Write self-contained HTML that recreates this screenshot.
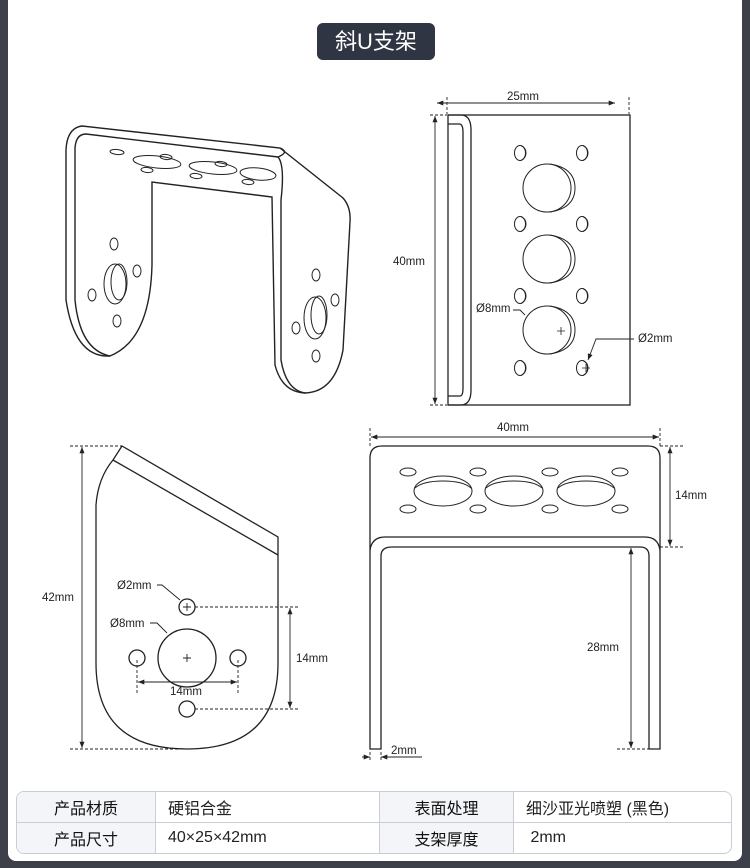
<!DOCTYPE html>
<html><head><meta charset="utf-8"><style>
html,body{margin:0;padding:0;background:#3d4049;}
body{width:750px;height:868px;position:relative;overflow:hidden;font-family:"Liberation Sans","Noto Sans CJK SC",sans-serif;}
.card{position:absolute;left:8px;top:0;width:734px;height:861px;background:#fff;border-radius:0 0 8px 8px;}
.title{position:absolute;left:317px;top:23px;width:118px;height:37px;background:#2f3542;border-radius:6px;color:#fff;font-size:22px;line-height:37px;text-align:center;font-family:"Liberation Sans","Noto Sans CJK SC",sans-serif;}
svg{position:absolute;left:0;top:0;}
table{position:absolute;left:16px;top:791px;width:716px;height:61px;border-collapse:separate;border-spacing:0;border:1px solid #c9cdd5;border-radius:8px;overflow:hidden;font-size:16px;color:#222;}
td{border-right:1px solid #c9cdd5;border-bottom:1px solid #c9cdd5;padding:0 0 0 12px;height:30px;}
tr:last-child td{border-bottom:none}
td:last-child{border-right:none}
td.h{background:#f3f5f9;text-align:center;padding:0;color:#111;}
</style></head><body>
<div class="card"></div>
<div class="title">斜U支架</div>
<svg width="750" height="868" viewBox="0 0 750 868" fill="none" stroke="#222" stroke-width="1.2" font-family="Liberation Sans, sans-serif" font-size="11.5">
<defs><marker id="a" viewBox="0 0 10 10" refX="10" refY="5" markerWidth="7" markerHeight="7" orient="auto-start-reverse"><path d="M0,1 L10,5 L0,9 z" fill="#222" stroke="none"/></marker>
<g id="sh" stroke-width="1"><ellipse cx="0" cy="0" rx="5.5" ry="7.5"/><path d="M1,-7.5 Q6,-5 6,0 Q6,5 1,7.5"/></g>
<g id="bh" stroke-width="1"><circle cx="0" cy="0" r="24"/><path d="M3,-24 Q28,-20 28,0 Q28,20 3,24"/></g>
<g id="eh" stroke-width="1"><ellipse cx="0" cy="0" rx="29" ry="15"/><path d="M-28,-3 Q-20,-10 0,-10 Q20,-10 28,-3"/></g>
</defs>
<!-- iso view -->
<g stroke-width="1.4">
<path d="M66,300 L66,150 Q67,128 82,126 L280,148 L343,198 Q351,207 350,222 L343,350 Q335,392 305,393 Q282,392 275,365 L272,197 L152,182 L152,265 Q150,340 110,356 Q75,358 66,300 Z"/>
<path d="M75,300 L75,148 Q76,134 86,134 L278,157"/>
<path d="M278,157 Q285,165 281,200 L281,360 Q286,390 305,393"/>
<path d="M280,148 Q290,152 278,157"/>
<path d="M75,300 Q80,350 110,356"/>
</g>
<g stroke-width="1">
<ellipse cx="117" cy="152" rx="7" ry="2.5" transform="rotate(6 117 152)"/>
<ellipse cx="157" cy="162" rx="24" ry="6" transform="rotate(6 157 162)"/>
<ellipse cx="166" cy="157" rx="6" ry="2.5" transform="rotate(6 166 157)"/>
<ellipse cx="147" cy="170" rx="6" ry="2.5" transform="rotate(6 147 170)"/>
<ellipse cx="213" cy="168" rx="24" ry="6" transform="rotate(6 213 168)"/>
<ellipse cx="221" cy="164" rx="6" ry="2.5" transform="rotate(6 221 164)"/>
<ellipse cx="196" cy="176" rx="6" ry="2.5" transform="rotate(6 196 176)"/>
<ellipse cx="258" cy="174" rx="18" ry="6" transform="rotate(6 258 174)"/>
<ellipse cx="248" cy="182" rx="6" ry="2.5" transform="rotate(6 248 182)"/>
<ellipse cx="115" cy="284" rx="11" ry="20"/><ellipse cx="119" cy="282" rx="8" ry="18"/>
<ellipse cx="114" cy="244" rx="4" ry="6"/><ellipse cx="137" cy="271" rx="4" ry="6"/>
<ellipse cx="92" cy="295" rx="4" ry="6"/><ellipse cx="117" cy="321" rx="4" ry="6"/>
<ellipse cx="315" cy="318" rx="11" ry="21"/><ellipse cx="319" cy="315" rx="8" ry="19"/>
<ellipse cx="316" cy="275" rx="4" ry="6"/><ellipse cx="335" cy="300" rx="4" ry="6"/>
<ellipse cx="296" cy="328" rx="4" ry="6"/><ellipse cx="316" cy="356" rx="4" ry="6"/>
</g>
<!-- top right view -->
<g stroke-width="1.3">
<rect x="448" y="115" width="182" height="290"/>
<path d="M448,115 L462,115 Q471,116 471,130 L471,390 Q471,404 462,405 L448,405"/>
<path d="M448,124 L460,124 Q463,125 463,132 L463,388 Q463,396 460,396 L448,396"/>
</g>
<g stroke-width="1">
<use href="#sh" x="520" y="153"/><use href="#sh" x="582" y="153"/>
<use href="#sh" x="520" y="224"/><use href="#sh" x="582" y="224"/>
<use href="#sh" x="520" y="296"/><use href="#sh" x="582" y="296"/>
<use href="#sh" x="520" y="368"/><use href="#sh" x="582" y="368"/>
<use href="#bh" x="547" y="188"/><use href="#bh" x="547" y="259"/><use href="#bh" x="547" y="330"/>
<path d="M557,331 h8 M561,327 v8 M582,368 h8 M586,364 v8" stroke-width="0.8"/>
</g>
<g stroke-width="0.9">
<line x1="437" y1="103" x2="615" y2="103" marker-start="url(#a)" marker-end="url(#a)"/>
<path d="M447,97 V114 M629,97 V114 M430,115 H447 M430,405 H447" stroke-dasharray="3,2"/>
<line x1="435" y1="116" x2="435" y2="404" marker-start="url(#a)" marker-end="url(#a)"/>
<path d="M513,310 H520 L525,315"/>
<path d="M634,339 H596 L588,360" marker-end="url(#a)"/>
</g>
<g fill="#222" stroke="none">
<text x="507" y="100">25mm</text>
<text x="393" y="265">40mm</text>
<text x="476" y="312">Ø8mm</text>
<text x="638" y="342">Ø2mm</text>
</g>
<!-- bottom left profile -->
<g stroke-width="1.3">
<path d="M122,446 L278,537 L278,663 Q278,749 187,749 Q96,749 96,663 L96,505 Q98,478 113,460 Z"/>
<line x1="113" y1="460" x2="278" y2="555"/>
<circle cx="187" cy="607" r="8"/><circle cx="187" cy="658" r="29"/>
<circle cx="137" cy="658" r="8"/><circle cx="238" cy="658" r="8"/><circle cx="187" cy="709" r="8"/>
</g>
<g stroke-width="0.9">
<path d="M183,607 h8 M187,603 v8 M183,658 h8 M187,654 v8"/>
<path d="M195,607 H300 M195,709 H300 M137,660 V693 M238,660 V693 M70,446 H122 M70,749 H180" stroke-dasharray="3,2"/>
<line x1="290" y1="608" x2="290" y2="708" marker-start="url(#a)" marker-end="url(#a)"/>
<line x1="138" y1="682" x2="237" y2="682" marker-start="url(#a)" marker-end="url(#a)"/>
<line x1="82" y1="447" x2="82" y2="748" marker-start="url(#a)" marker-end="url(#a)"/>
<path d="M157,585 H162 L180,600"/>
<path d="M150,623 H157 L167,633"/>
</g>
<g fill="#222" stroke="none">
<text x="117" y="589">Ø2mm</text>
<text x="110" y="627">Ø8mm</text>
<text x="296" y="662">14mm</text>
<text x="170" y="695">14mm</text>
<text x="42" y="601">42mm</text>
</g>
<!-- bottom right front view -->
<g stroke-width="1.3">
<path d="M370,749 L370,458 Q370,446 382,446 L648,446 Q660,446 660,458 L660,749 L649,749 L649,556 Q649,547 640,547 L392,547 Q381,547 381,556 L381,749 Z"/>
<path d="M370,550 Q372,537 385,537 L645,537 Q658,537 660,550"/>
</g>
<g stroke-width="1">
<ellipse cx="408" cy="472" rx="8" ry="4"/><ellipse cx="478" cy="472" rx="8" ry="4"/><ellipse cx="550" cy="472" rx="8" ry="4"/><ellipse cx="620" cy="472" rx="8" ry="4"/>
<ellipse cx="408" cy="509" rx="8" ry="4"/><ellipse cx="478" cy="509" rx="8" ry="4"/><ellipse cx="550" cy="509" rx="8" ry="4"/><ellipse cx="620" cy="509" rx="8" ry="4"/>
<use href="#eh" x="443" y="491"/><use href="#eh" x="514" y="491"/><use href="#eh" x="586" y="491"/>
</g>
<g stroke-width="0.9">
<line x1="371" y1="437" x2="659" y2="437" marker-start="url(#a)" marker-end="url(#a)"/>
<path d="M370,428 V446 M660,428 V446 M660,446 H685 M660,547 H685 M617,749 H649 M370,752 V762 M381,752 V762" stroke-dasharray="3,2"/>
<line x1="670" y1="447" x2="670" y2="546" marker-start="url(#a)" marker-end="url(#a)"/>
<line x1="631" y1="548" x2="631" y2="748" marker-start="url(#a)" marker-end="url(#a)"/>
<line x1="362" y1="757" x2="370" y2="757" marker-end="url(#a)"/>
<line x1="390" y1="757" x2="381" y2="757" marker-end="url(#a)"/>
<line x1="381" y1="757" x2="422" y2="757"/>
</g>
<g fill="#222" stroke="none">
<text x="497" y="431">40mm</text>
<text x="675" y="499">14mm</text>
<text x="587" y="651">28mm</text>
<text x="391" y="754">2mm</text>
</g>
</svg>
<table>
<tr><td class="h" style="width:138px">产品材质</td><td style="width:211px">硬铝合金</td><td class="h" style="width:133px">表面处理</td><td>细沙亚光喷塑 (黑色)</td></tr>
<tr><td class="h">产品尺寸</td><td>40×25×42mm</td><td class="h">支架厚度</td><td>&nbsp;2mm</td></tr>
</table>
</body></html>
